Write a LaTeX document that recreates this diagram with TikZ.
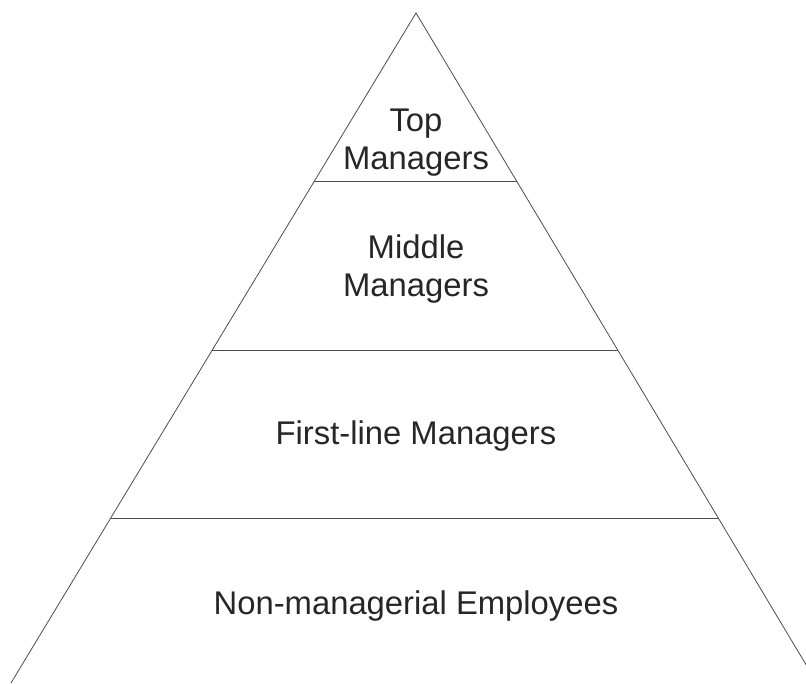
\documentclass[tikz,border=0pt]{standalone}
\usepackage{fontspec}
\setmainfont{Liberation Sans}
\usetikzlibrary{calc}
\tikzstyle{level}=[font=\fontsize{32.8}{38}\selectfont,align=center,inner sep=0pt,text=black!85]
\tikzstyle{side}=[draw=black!70,line width=0.8pt]

\begin{document}
\begin{tikzpicture}[x=1pt,y=-1pt]
	\useasboundingbox (0,0) rectangle (806,683);
	\clip (0,0) rectangle (806,683);
	\coordinate (A) at (416,13);
	\coordinate (BL) at (11,683);
	\coordinate (BR) at (817,683);
	\draw[side] (BL) -- (A) -- (BR);
	\foreach \nr/\t in {1/0.252, 2/0.503, 3/0.754}{
		\coordinate (L\nr) at ($(A)!\t!(BL)$);
		\coordinate (R\nr) at ($(A)!\t!(BR)$);
		\draw[side] (L\nr) -- (R\nr);
	}
	\node (top)[level] at (416,143) {Top\\Managers};
	\node (middle)[level] at (416,269) {Middle\\Managers};
	\node (first)[level] at (416,436) {First-line Managers};
	\node (non)[level] at (416,606) {Non-managerial Employees};
\end{tikzpicture}
\end{document}
